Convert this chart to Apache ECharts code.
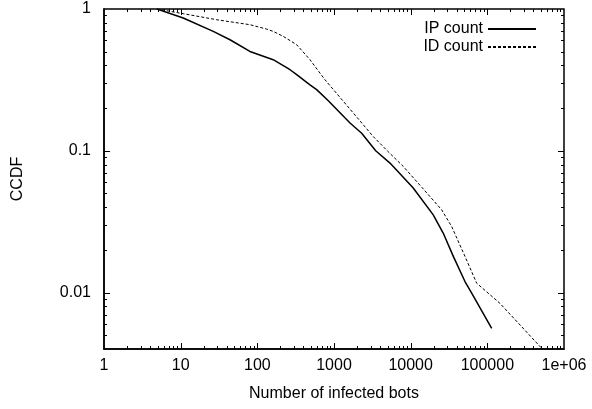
<!DOCTYPE html>
<html>
<head>
<meta charset="utf-8">
<script src="https://cdn.jsdelivr.net/npm/echarts@6/dist/echarts.min.js"></script>
<style>html,body{margin:0;padding:0;background:#fff}#c{width:592px;height:409px}</style>
</head>
<body>
<div id="c"></div>
<script>
// IP count curve (x = number of infected bots, y = CCDF)
const ipX = [4.9, 10.8, 26.6, 44, 80, 161, 267, 326, 486, 594, 843, 1618, 2297, 3499, 5375, 10800, 19700, 26650, 36000, 51100, 62500, 114000];
const ipY = [1.0, 0.864, 0.695, 0.607, 0.502, 0.439, 0.373, 0.344, 0.292, 0.27, 0.2254, 0.157, 0.133, 0.1, 0.0819, 0.0546, 0.0353, 0.0262, 0.018, 0.01196, 0.0099, 0.0056];
// ID count curve
const idX = [4.9, 10.8, 29.5, 80, 132, 161, 218, 326, 486, 762, 1306, 3251, 4955, 8017, 14000, 25400, 34300, 51100, 72600, 146000, 500000];
const idY = [1.0, 0.927, 0.84, 0.775, 0.722, 0.695, 0.641, 0.56, 0.439, 0.317, 0.2254, 0.126, 0.1, 0.0775, 0.0552, 0.0383, 0.0292, 0.018, 0.01165, 0.0084, 0.0041];
const seriesNames = ['IP count', 'ID count'];
// tick labels, one per decade
const xTickLabels = ['1', '10', '100', '1000', '10000', '100000', '1e+06'];
const yTickLabels = ['1', '0.1', '0.01'];
const xMajorTicks = [1, 10, 100, 1000, 10000, 100000, 1000000];
const yMajorTicks = [1, 0.1, 0.01];
const xRange = [1, 1000000];
const yRange = [1, 0.004];
const xMinorTicks = [];
[1, 10, 100, 1000, 10000, 100000].forEach(d => { for (let m = 2; m <= 9; m++) xMinorTicks.push(d * m); });
const yMinorTicks = [0.005, 0.006, 0.007, 0.008, 0.009];
[0.01, 0.1].forEach(d => { for (let m = 2; m <= 9; m++) yMinorTicks.push(Number((d * m).toPrecision(3))); });

// log-log plot: x axis is log10(value), y axis is -log10(CCDF) drawn inverted
const lx = v => Math.log10(v);
const ly = v => -Math.log10(v);
const FONT = 'Liberation Sans';
const chart = echarts.init(document.getElementById('c'), null, {renderer: 'canvas'});
function lab(labels) {
  return v => { const r = Math.round(v); return Math.abs(r - v) < 1e-6 && labels[r] !== undefined ? labels[r] : ''; };
}
function pairs(xs, ys) { return xs.map((x, i) => [lx(x), ly(ys[i])]); }

// tick marks on all four sides (kind 0 = x tick, 1 = y tick), drawn through the axes' scales
const tickData = [];
xMajorTicks.forEach(v => tickData.push([0, lx(v), 6]));
xMinorTicks.forEach(v => tickData.push([0, lx(v), 3]));
yMajorTicks.forEach(v => tickData.push([1, ly(v), 6]));
yMinorTicks.forEach(v => tickData.push([1, ly(v), 3]));

function renderTick(params, api) {
  const cs = params.coordSys;
  const kind = api.value(0), val = api.value(1), len = api.value(2);
  const style = {stroke: '#000', lineWidth: 1};
  const left = cs.x, right = cs.x + cs.width, top = cs.y, bottom = cs.y + cs.height;
  if (kind === 0) {
    const px = Math.round(api.coord([val, ly(yRange[0])])[0]) + 0.5;
    if (px <= left + 1 || px >= right - 1) return null;
    return {type: 'group', children: [
      {type: 'line', shape: {x1: px, y1: bottom, x2: px, y2: bottom - len}, style: style},
      {type: 'line', shape: {x1: px, y1: top, x2: px, y2: top + len}, style: style}
    ]};
  }
  const py = Math.round(api.coord([lx(xRange[0]), val])[1]) + 0.5;
  if (py <= top + 1 || py >= bottom - 1) return null;
  return {type: 'group', children: [
    {type: 'line', shape: {x1: left, y1: py, x2: left + len, y2: py}, style: style},
    {type: 'line', shape: {x1: right, y1: py, x2: right - len, y2: py}, style: style}
  ]};
}

chart.setOption({
  animation: false,
  backgroundColor: '#fff',
  grid: {left: 104, right: 28, top: 9, bottom: 60, containLabel: false, show: true, borderColor: '#000', borderWidth: 1.5, backgroundColor: 'transparent'},
  xAxis: {
    type: 'value', min: lx(xRange[0]), max: lx(xRange[1]), interval: 1, position: 'bottom',
    axisLine: {show: true, onZero: false, lineStyle: {color: '#000', width: 1.5}},
    axisTick: {show: false},
    splitLine: {show: false},
    axisLabel: {formatter: lab(xTickLabels), color: '#000', fontFamily: FONT, fontSize: 16, margin: 9},
    name: 'Number of infected bots', nameLocation: 'middle', nameGap: 37,
    nameTextStyle: {color: '#000', fontFamily: FONT, fontSize: 16}
  },
  yAxis: {
    type: 'value', min: ly(yRange[0]), max: ly(yRange[1]), interval: 1, inverse: true, position: 'left',
    axisLine: {show: true, onZero: false, lineStyle: {color: '#000', width: 1.5}},
    axisTick: {show: false},
    splitLine: {show: false},
    axisLabel: {formatter: lab(yTickLabels), showMaxLabel: false, color: '#000', fontFamily: FONT, fontSize: 16, margin: 13},
    name: 'CCDF', nameLocation: 'middle', nameGap: 78, nameRotate: 90,
    nameTextStyle: {color: '#000', fontFamily: FONT, fontSize: 16}
  },
  legend: {
    orient: 'vertical', right: 50, top: 16, align: 'right', itemGap: 2,
    itemWidth: 48, itemHeight: 14,
    itemStyle: {opacity: 0},
    textStyle: {color: '#000', fontFamily: FONT, fontSize: 16, lineHeight: 16},
    data: seriesNames
  },
  series: [
    {name: seriesNames[0], type: 'line', data: pairs(ipX, ipY), symbol: 'none', smooth: false, clip: true,
     lineStyle: {color: '#000', width: 1.5, type: 'solid'}, itemStyle: {color: '#000'}},
    {name: seriesNames[1], type: 'line', data: pairs(idX, idY), symbol: 'none', smooth: false, clip: true,
     lineStyle: {color: '#000', width: 1, type: [3, 2]}, itemStyle: {color: '#000'}},
    {name: 'ticks', type: 'custom', data: tickData, renderItem: renderTick, silent: true, clip: false,
     encode: {x: 1, y: -1}, z: 5}
  ]
});
</script>
</body>
</html>
